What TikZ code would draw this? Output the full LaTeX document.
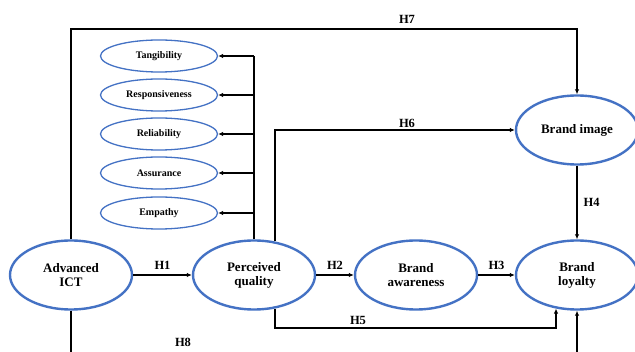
\documentclass[tikz,border=0pt]{standalone}
\usepackage{fontspec}
\setmainfont{Liberation Serif}
\usetikzlibrary{shapes.geometric,arrows.meta}
\definecolor{ellblue}{RGB}{68,114,196}
\begin{document}
\begin{tikzpicture}[x=1pt,y=-1pt,
  big/.style={ellipse,draw=ellblue,line width=2.4pt,minimum width=122pt,minimum height=69pt,inner sep=0pt,align=center,font=\bfseries\fontsize{13}{14}\selectfont},
  small/.style={ellipse,draw=ellblue,line width=1.3pt,minimum width=117pt,minimum height=32pt,inner sep=0pt,font=\bfseries\fontsize{10}{11}\selectfont},
  conn/.style={line width=1.4pt,-{Latex[length=5pt,width=4.5pt]}},
  spine/.style={line width=1.3pt},
  lab/.style={font=\bfseries\fontsize{12.5}{14}\selectfont,inner sep=0pt}]
\useasboundingbox (0,0) rectangle (635,352);
\clip (0,0) rectangle (635,352);
% main constructs
\node[big] (ict) at (71,275) {Advanced\\ICT};
\node[big] (pq) at (254,275) {Perceived\\quality};
\node[big] (ba) at (416,275) {Brand\\awareness};
\node[big] (bl) at (577,275) {Brand\\loyalty};
\node[big] (bi) at (577,130) {Brand image};
% dimensions
\node[small] (tan) at (159,56) {Tangibility};
\node[small] (res) at (159,95) {Responsiveness};
\node[small] (rel) at (159,134) {Reliability};
\node[small] (ass) at (159,173) {Assurance};
\node[small] (emp) at (159,213) {Empathy};
% spine
\draw[spine] (pq.north) -- (pq.north |- tan.east);
\foreach \s in {tan,res,rel,ass,emp}
  \draw[conn,line width=1.2pt] (pq.north |- \s.east) -- (\s.east);
% hypotheses
\draw[conn] (ict.east) -- node[lab,above=5pt]{H1} (pq.west);
\draw[conn] (pq.east) -- node[lab,above=5pt]{H2} (ba.west);
\draw[conn] (ba.east) -- node[lab,above=5pt]{H3} (bl.west);
\draw[conn] (bi.south) -- node[lab,right=6pt]{H4} (bl.north);
\draw[conn] (pq.58) |- (bi.west);
\node[lab] (h6) at (407,123) {H6};
\draw[conn,line width=1.9pt] (ict.north) -- (ict.north |- 0,29) -| (bi.north);
\node[lab] (h7) at (407,19) {H7};
\draw[conn,line width=2.4pt] (pq.-58) -- (pq.-58 |- 0,328) -| (bl.-122);
\node[lab] (h5) at (358,320) {H5};
\draw[conn,line width=1.9pt] (ict.south) -- (ict.south |- 0,372) -| (bl.south);
\node[lab] (h8) at (183,342) {H8};
\end{tikzpicture}
\end{document}
